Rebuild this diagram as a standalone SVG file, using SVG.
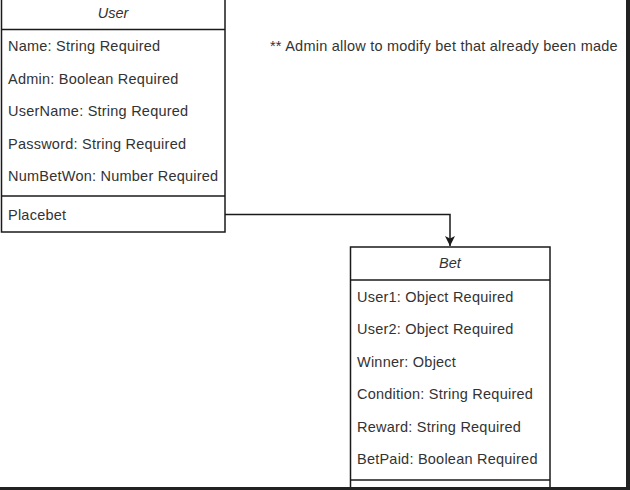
<svg xmlns="http://www.w3.org/2000/svg" width="630" height="490" viewBox="0 0 630 490">
<style>
.box{fill:#ffffff;stroke:#1a1a1a;stroke-width:1.5}
.div{stroke:#1a1a1a;stroke-width:1.5}
.t{font-family:"Liberation Sans",Arial,sans-serif;font-size:14.5px;fill:#333333;letter-spacing:0.23px}
.h{font-family:"Liberation Sans",Arial,sans-serif;font-size:14.5px;fill:#333333;font-style:italic;text-anchor:middle}
.edge{fill:none;stroke:#1a1a1a;stroke-width:1.5}
</style>
<defs>
<marker id="arr" markerWidth="12" markerHeight="12" refX="10" refY="6" orient="auto" markerUnits="userSpaceOnUse">
<path d="M0,1 L10,6 L0,11 L2.5,6 Z" fill="#1a1a1a"/>
</marker>
</defs>
<rect x="0" y="0" width="630" height="490" fill="#ffffff"/>
<g id="user">
<rect class="box" x="1.5" y="-5" width="223.5" height="237"/>
<line class="div" x1="1.5" y1="29.5" x2="225" y2="29.5"/>
<line class="div" x1="1.5" y1="196" x2="225" y2="196"/>
<text class="h" x="113" y="18">User</text>
<text class="t" x="8" y="51">Name: String Required</text>
<text class="t" x="8" y="83.5">Admin: Boolean Required</text>
<text class="t" x="8" y="116">UserName: String Requred</text>
<text class="t" x="8" y="148.5">Password: String Required</text>
<text class="t" x="8" y="181">NumBetWon: Number Required</text>
<text class="t" x="8" y="220">Placebet</text>
</g>
<g id="note">
<text class="t" x="270" y="51">** Admin allow to modify bet that already been made</text>
</g>
<g id="bet">
<rect class="box" x="350.5" y="247" width="199.5" height="250"/>
<line class="div" x1="350.5" y1="280" x2="550" y2="280"/>
<line class="div" x1="350.5" y1="480" x2="550" y2="480"/>
<text class="h" x="450" y="268">Bet</text>
<text class="t" x="357" y="301.5">User1: Object Required</text>
<text class="t" x="357" y="334">User2: Object Required</text>
<text class="t" x="357" y="366.5">Winner: Object</text>
<text class="t" x="357" y="399">Condition: String Required</text>
<text class="t" x="357" y="431.5">Reward: String Required</text>
<text class="t" x="357" y="464">BetPaid: Boolean Required</text>
</g>
<g id="connectors">
<path class="edge" d="M225,214.5 H450 V246" marker-end="url(#arr)"/>
</g>
<rect x="626" y="0" width="4" height="490" fill="#222222"/>
<rect x="0" y="487" width="630" height="3" fill="#222222"/>
</svg>
